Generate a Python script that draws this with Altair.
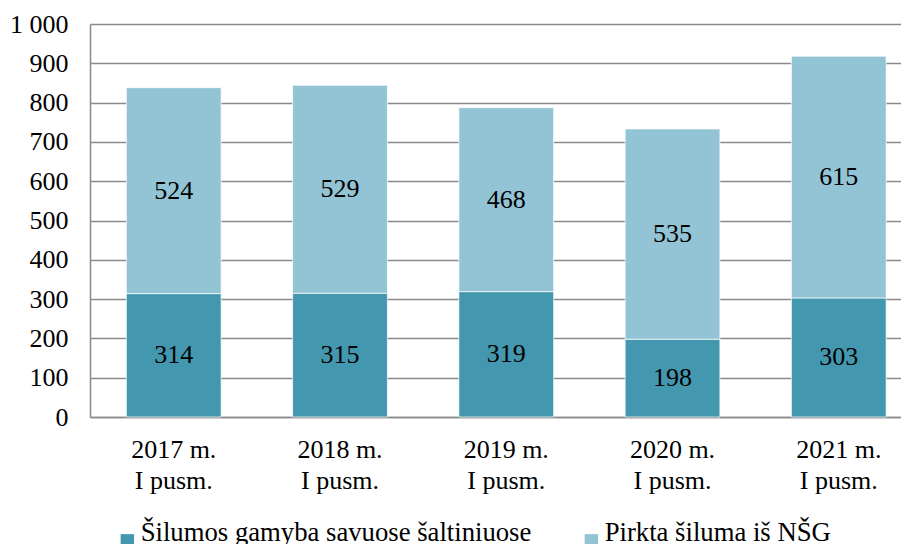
import altair as alt
import pandas as pd

periods = ["2017 m.|I pusm.", "2018 m.|I pusm.", "2019 m.|I pusm.", "2020 m.|I pusm.", "2021 m.|I pusm."]
series_names = ["Šilumos gamyba savuose šaltiniuose", "Pirkta šiluma iš NŠG"]
own_production = [314, 315, 319, 198, 303]
purchased = [524, 529, 468, 535, 615]
colors = ["#4398B0", "#93C4D5"]
y_ticks = [0, 100, 200, 300, 400, 500, 600, 700, 800, 900, 1000]

rows = []
for i, p in enumerate(periods):
    rows.append({"period": p, "series": series_names[0], "value": own_production[i], "order": 0})
    rows.append({"period": p, "series": series_names[1], "value": purchased[i], "order": 1})
df = pd.DataFrame(rows)

FONT = "Liberation Serif"
GRAY = "#8a8a8a"

x_scale = alt.Scale(paddingInner=0.43, paddingOuter=0.154, align=0.71)
x_axis = alt.Axis(
    title=None,
    labelAngle=0,
    labelExpr="split(datum.label, '|')",
    labelFontSize=26,
    labelFont=FONT,
    labelColor="black",
    labelLineHeight=31,
    labelPadding=19,
    labelBaseline="top",
    ticks=False,
    tickSize=0,
    grid=False,
    domainColor=GRAY,
    domainWidth=1.5,
)

y_scale = alt.Scale(domain=[0, 1000], nice=False)
y_axis = alt.Axis(
    title=None,
    values=y_ticks,
    labelExpr="datum.value == 1000 ? '1 000' : format(datum.value, 'd')",
    labelFontSize=26,
    labelFont=FONT,
    labelColor="black",
    labelPadding=22,
    labelOverlap=False,
    ticks=False,
    tickSize=0,
    grid=True,
    gridColor=GRAY,
    gridWidth=1.5,
    domainColor=GRAY,
    domainWidth=1.5,
)

bars = alt.Chart(df).mark_bar(stroke="white", strokeWidth=0.7).encode(
    x=alt.X("period:N", sort=periods, scale=x_scale, axis=x_axis),
    y=alt.Y("value:Q", stack="zero", scale=y_scale, axis=y_axis),
    color=alt.Color(
        "series:N",
        scale=alt.Scale(domain=series_names, range=colors),
        legend=alt.Legend(
            title=None,
            orient="none",
            legendX=24,
            legendY=503,
            direction="horizontal",
            symbolType="square",
            symbolSize=180,
            symbolStrokeWidth=0,
            symbolOpacity=1,
            labelFontSize=26.7,
            labelFont=FONT,
            labelColor="black",
            labelOffset=0,
            labelLimit=1000,
            labelBaseline="alphabetic",
            columnPadding=46,
            padding=0,
        ),
    ),
    order=alt.Order("order:Q", sort="ascending"),
)

labels = (
    alt.Chart(df)
    .transform_stack(
        stack="value",
        groupby=["period"],
        sort=[alt.SortField("order", "ascending")],
        as_=["y0", "y1"],
    )
    .transform_calculate(mid="(datum.y0 + datum.y1) / 2")
    .mark_text(font=FONT, fontSize=26, color="black", baseline="middle", align="center")
    .encode(
        x=alt.X("period:N", sort=periods, scale=x_scale, axis=x_axis),
        y=alt.Y("mid:Q", stack=None, scale=y_scale, axis=y_axis),
        text=alt.Text("value:Q"),
    )
)

chart = (
    alt.layer(bars, labels)
    .properties(
        width=811,
        height=393,
        autosize=alt.AutoSizeParams(type="none"),
        padding={"left": 82, "top": 16, "right": 0, "bottom": 128},
    )
    .configure(font=FONT)
    .configure_view(stroke=None)
)

chart.save("out.html", embed_options={"renderer": "svg", "actions": False})
